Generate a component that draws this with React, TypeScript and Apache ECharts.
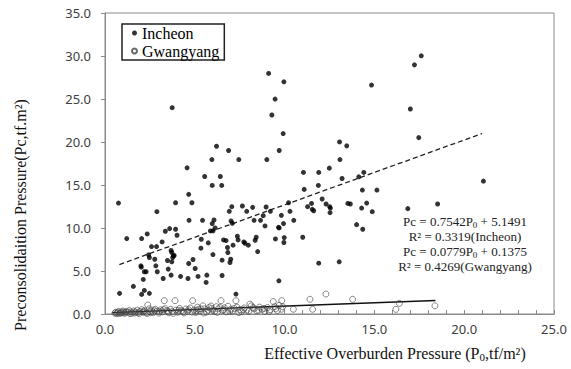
import React, { useEffect, useRef } from "react";
import * as echarts from "echarts";

// Incheon: [effective overburden P0, preconsolidation Pc]
const incheon: number[][] = [
  [0.75, 12.9], [0.81, 2.4], [1.21, 8.77], [1.58, 3.21], [2.04, 8.77], [2.35, 9.31],
  [2.0, 5.6], [2.02, 5.45], [2.13, 4.02], [2.19, 4.91], [2.29, 4.91], [2.04, 2.28],
  [2.19, 2.74], [2.47, 2.4], [2.43, 6.88], [2.47, 6.57], [2.59, 7.84], [2.87, 7.84],
  [2.77, 6.37], [2.83, 5.6], [2.91, 4.91], [2.89, 11.9], [3.18, 8.38], [3.24, 4.13],
  [3.36, 9.62], [3.48, 6.22], [3.52, 5.22], [3.6, 9.93], [3.68, 7.38], [3.72, 7.15],
  [3.72, 6.07], [3.77, 6.57], [3.81, 6.76], [3.68, 4.52], [3.85, 6.8], [3.93, 12.94],
  [3.93, 9.85], [4.01, 9.16], [3.74, 23.99], [4.21, 4.37], [4.57, 17.0], [4.66, 13.91],
  [4.68, 10.89], [4.66, 5.87], [4.62, 4.13], [4.84, 12.94], [4.9, 6.34], [5.02, 5.29],
  [5.18, 4.37], [5.36, 8.69], [5.34, 7.65], [5.43, 10.89], [5.55, 15.99], [5.63, 3.67],
  [5.67, 4.52], [5.75, 8.27], [5.87, 9.66], [5.95, 17.96], [5.97, 14.95], [5.97, 10.51],
  [6.01, 9.66], [6.01, 6.91], [6.07, 10.93], [6.13, 10.01], [6.21, 19.51], [6.42, 15.99],
  [6.5, 14.95], [6.52, 6.26], [6.52, 4.48], [6.6, 8.61], [6.74, 8.54], [6.82, 7.73],
  [6.84, 7.15], [6.88, 19.01], [6.92, 11.94], [6.96, 5.99], [7.0, 6.37], [7.02, 10.82],
  [7.06, 12.48], [7.09, 10.55], [7.13, 8.0], [7.29, 2.32], [7.37, 9.04], [7.41, 8.61],
  [7.45, 17.96], [7.65, 12.56], [7.73, 8.38], [7.79, 8.23], [7.89, 11.94], [7.98, 8.0],
  [8.22, 12.4], [8.3, 10.89], [8.36, 8.58], [8.42, 8.92], [8.5, 7.26], [8.66, 10.89],
  [8.81, 11.43], [8.91, 10.24], [8.97, 12.44], [9.01, 17.96], [9.11, 27.97], [9.21, 11.94],
  [9.29, 23.14], [9.47, 24.99], [9.49, 8.73], [9.66, 10.08], [9.7, 19.01], [9.68, 3.86],
  [9.7, 10.01], [9.82, 11.47], [9.92, 20.98], [9.96, 27.0], [9.94, 10.51], [9.98, 8.89],
  [9.96, 8.31], [10.22, 12.94], [10.3, 11.94], [10.51, 10.89], [11.01, 8.92], [11.05, 16.46],
  [11.09, 14.49], [11.28, 12.48], [11.5, 12.86], [11.54, 12.17], [11.62, 12.01], [11.9, 16.46],
  [11.88, 14.95], [11.9, 5.91], [12.09, 13.37], [12.31, 12.79], [12.49, 16.96], [12.51, 12.48],
  [12.55, 12.32], [12.53, 11.78], [13.06, 20.01], [13.08, 17.96], [13.04, 6.07], [13.2, 15.76],
  [13.46, 19.55], [13.52, 12.86], [13.66, 12.79], [14.01, 10.39], [14.13, 15.95], [14.29, 12.32],
  [14.33, 14.41], [14.35, 9.85], [14.41, 16.46], [14.57, 12.9], [14.84, 26.62], [14.88, 11.9],
  [15.14, 14.41], [16.86, 12.25], [17.0, 23.84], [17.23, 28.97], [17.47, 20.51], [17.61, 30.02],
  [18.52, 12.79], [21.07, 15.45],
];

const gwangyang: number[][] = [
  [0.55, 0.1], [0.6, 0.2], [0.7, 0.15], [0.75, 0.3], [0.8, 0.05], [0.9, 0.25], [0.95, 0.12],
  [1.0, 0.35], [1.05, 0.2], [1.1, 0.08], [1.2, 0.3], [1.3, 0.18], [1.35, 0.4], [1.45, 0.25],
  [1.5, 0.1], [1.6, 0.35], [1.7, 0.22], [1.8, 0.45], [1.85, 0.15], [1.95, 0.3], [2.05, 0.5],
  [2.1, 0.2], [2.2, 0.38], [2.3, 0.12], [2.38, 1.05], [2.45, 0.6], [2.5, 0.28], [2.6, 0.45],
  [2.7, 0.18], [2.8, 0.55], [2.9, 0.33], [3.0, 0.1], [3.1, 0.48], [3.2, 0.25], [3.3, 1.55],
  [3.35, 0.62], [3.45, 0.4], [3.55, 0.15], [3.65, 0.55], [3.75, 0.3], [3.9, 1.55], [3.95, 0.45],
  [4.05, 0.2], [4.15, 0.65], [4.25, 0.38], [4.4, 0.12], [4.5, 0.58], [4.6, 0.3], [4.75, 0.7],
  [4.88, 1.55], [4.95, 0.45], [5.05, 0.18], [5.15, 0.8], [5.2, 0.55], [5.3, 0.35], [5.45, 0.95],
  [5.55, 0.6], [5.65, 0.22], [5.8, 0.75], [5.9, 0.93], [6.0, 0.45], [6.1, 0.3], [6.2, 0.85],
  [6.3, 0.6], [6.46, 1.55], [6.55, 0.4], [6.65, 0.72], [6.75, 0.25], [6.85, 0.9], [7.0, 0.55],
  [7.1, 0.35], [7.29, 1.55], [7.35, 0.8], [7.5, 0.5], [7.6, 0.28], [7.75, 0.7], [7.9, 0.45],
  [8.07, 1.15], [8.15, 0.95], [8.3, 0.6], [8.45, 0.38], [8.6, 0.8], [8.75, 0.55], [8.9, 0.3],
  [9.05, 0.75], [9.2, 0.5], [9.37, 1.45], [9.45, 0.85], [9.6, 0.4], [9.7, 1.0], [9.84, 1.55],
  [9.82, 0.55], [9.9, 0.85], [10.49, 0.55], [11.41, 1.71], [11.56, 0.55], [12.3, 2.32],
  [13.79, 1.71], [16.2, 0.54], [16.39, 1.24], [18.37, 0.95],
  [0.65, 0.05], [0.85, 0.15], [1.15, 0.22], [1.4, 0.05], [1.65, 0.12], [1.9, 0.05],
  [2.15, 0.28], [2.35, 0.08], [2.55, 0.15], [2.75, 0.38], [3.05, 0.28], [3.25, 0.5],
  [3.5, 0.3], [3.8, 0.08], [4.1, 0.42], [4.35, 0.28], [4.65, 0.5], [4.85, 0.22],
  [5.1, 0.4], [5.35, 0.6], [5.5, 0.12], [5.75, 0.45], [5.95, 0.65], [6.25, 0.2],
  [6.4, 0.75], [6.6, 0.5], [6.95, 0.3], [7.2, 0.65], [7.45, 0.15], [7.7, 0.5],
  [8.0, 0.3], [8.25, 0.75], [8.55, 0.45], [8.85, 0.65], [9.15, 0.3], [9.5, 0.6],
];

// regression lines: Pc = slope * P0 + intercept
const incheonSlope = 0.7542;
const incheonIntercept = 5.1491;
const incheonRange = [0.8, 21.0];
const gwangSlope = 0.0779;
const gwangIntercept = 0.1375;
const gwangRange = [0.4, 18.4];

const xTicks = [0, 25, 5];
const yTicks = [0, 35, 5];

const equations = [
  "{a|Pc = 0.7542P}{s|0}{a| + 5.1491}",
  "{a|R² = 0.3319(Incheon)}",
  "{a|Pc = 0.0779P}{s|0}{a| + 0.1375}",
  "{a|R² = 0.4269(Gwangyang)}",
];

const serif = "'Liberation Serif', 'Times New Roman', serif";
const sans = "'Noto Sans', 'DejaVu Sans', sans-serif";

export default function App() {
  const ref = useRef<HTMLDivElement>(null);
  useEffect(() => {
    if (!ref.current) return;
    const chart = echarts.init(ref.current, undefined, { renderer: "svg" });
    const line = (s: number, b: number, r: number[]) => r.map((x) => [x, s * x + b]);
    const rich = {
      a: { fontFamily: serif, fontSize: 13, lineHeight: 16, fill: "#222" },
      s: { fontFamily: serif, fontSize: 9, lineHeight: 9, verticalAlign: "bottom", fill: "#222" },
    };
    chart.setOption({
      animation: false,
      backgroundColor: "#fff",
      grid: { left: 105, right: 17, top: 13, bottom: 55, show: true, borderColor: "#8a8a8a", borderWidth: 1 },
      legend: {
        data: ["Incheon", "Gwangyang"],
        orient: "vertical",
        left: 122,
        top: 24,
        padding: [1, 5, 1, 9],
        itemGap: 2,
        itemWidth: 5,
        itemHeight: 5,
        borderColor: "#222",
        borderWidth: 1.5,
        backgroundColor: "#fff",
        textStyle: { fontFamily: serif, fontSize: 16, color: "#000", lineHeight: 16 },
      },
      xAxis: {
        type: "value",
        min: xTicks[0],
        max: xTicks[1],
        interval: xTicks[2],
        axisLine: { lineStyle: { color: "#8a8a8a" } },
        axisTick: { inside: true, length: 4, lineStyle: { color: "#8a8a8a" } },
        minorTick: { show: true, splitNumber: 5, length: 4, lineStyle: { color: "#8a8a8a" } },
        splitLine: { show: false },
        axisLabel: { formatter: (v: number) => v.toFixed(1), fontFamily: sans, fontSize: 13, color: "#404040", margin: 8 },
      },
      yAxis: {
        type: "value",
        min: yTicks[0],
        max: yTicks[1],
        interval: yTicks[2],
        axisLine: { show: true, lineStyle: { color: "#8a8a8a" } },
        axisTick: { show: true, inside: false, length: 4, lineStyle: { color: "#8a8a8a" } },
        splitLine: { show: false },
        axisLabel: { formatter: (v: number) => v.toFixed(1), fontFamily: sans, fontSize: 13, color: "#404040", margin: 14 },
      },
      graphic: [
        {
          type: "text",
          x: 20,
          y: 215,
          rotation: Math.PI / 2,
          style: {
            text: "Preconsolidaition Pressure(Pc,tf.m²)",
            fontFamily: serif,
            fontSize: 16,
            fill: "#111",
            align: "center",
            verticalAlign: "middle",
          },
        },
        {
          type: "text",
          x: 395,
          y: 353,
          style: {
            text: "{a|Effective Overburden Pressure (P}{s|0}{a|,tf/m²)}",
            rich: {
              a: { fontFamily: serif, fontSize: 16, lineHeight: 18, fill: "#111" },
              s: { fontFamily: serif, fontSize: 11, lineHeight: 11, verticalAlign: "bottom", fill: "#111" },
            },
            align: "center",
            verticalAlign: "middle",
          },
        },
        ...equations.map((t, i) => ({
          type: "text",
          x: 465,
          y: 221 + i * 15,
          style: { text: t, rich, align: "center", verticalAlign: "middle" },
        })),
      ],
      series: [
        {
          name: "Incheon",
          type: "scatter",
          data: incheon,
          symbol: "circle",
          symbolSize: 5,
          itemStyle: { color: "#000" },
          z: 3,
        },
        {
          name: "Gwangyang",
          type: "scatter",
          data: gwangyang,
          symbol: "circle",
          symbolSize: 6,
          itemStyle: { color: "rgba(255,255,255,0)", borderColor: "#444", borderWidth: 0.8 },
          z: 3,
        },
        {
          name: "incheonTrend",
          type: "line",
          data: line(incheonSlope, incheonIntercept, incheonRange),
          symbol: "none",
          lineStyle: { color: "#222", width: 1.3, type: [5, 3] },
          z: 2,
        },
        {
          name: "gwangTrend",
          type: "line",
          data: line(gwangSlope, gwangIntercept, gwangRange),
          symbol: "none",
          lineStyle: { color: "#111", width: 1.3 },
          z: 2,
        },
      ],
    });
    return () => chart.dispose();
  }, []);
  return <div ref={ref} style={{ position: "fixed", left: 0, top: 0, width: 571, height: 369 }} />;
}
